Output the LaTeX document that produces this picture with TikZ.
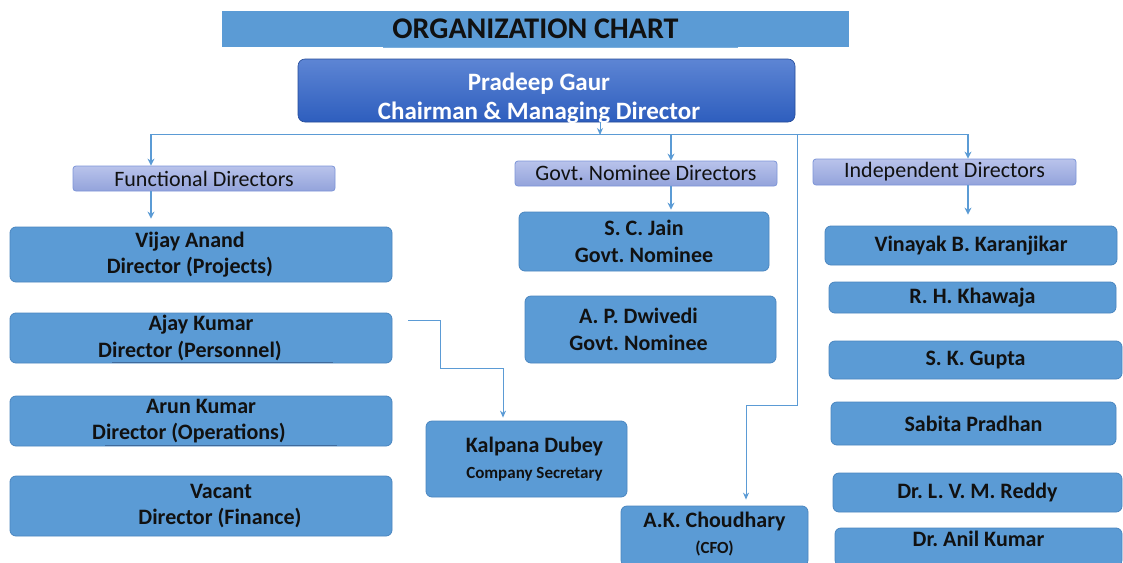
\documentclass[tikz,border=0pt]{standalone}
\usepackage{fontspec}
\setmainfont{Carlito}
\usetikzlibrary{arrows.meta}
\frenchspacing
\definecolor{boxblue}{HTML}{5B9BD5}
\definecolor{boxedge}{HTML}{4A86C0}
\definecolor{lineblue}{HTML}{5B9BD5}
\definecolor{chairtop}{HTML}{5D85D4}
\definecolor{chairbot}{HTML}{2E5EBE}
\definecolor{hdtop}{HTML}{B9C3EB}
\definecolor{hdbot}{HTML}{93A3DB}
\definecolor{hdedge}{HTML}{7D95D8}
\definecolor{txt}{HTML}{111111}
\definecolor{ulcol}{HTML}{3F6A9C}
\begin{document}
\begin{tikzpicture}[x=1pt,y=-1pt,
  box/.style={draw=boxedge, line width=0.8pt, fill=boxblue, rounded corners=6pt,
    inner sep=0pt, align=center, text=txt, font=\bfseries\fontsize{22}{26.5}\selectfont},
  hdbox/.style={draw=hdedge, line width=0.8pt, top color=hdtop, bottom color=hdbot,
    rounded corners=3pt, inner sep=0pt, text=txt, font=\fontsize{22}{24}\selectfont},
  conn/.style={draw=lineblue, line width=1pt},
  arr/.style={conn, -{Stealth[length=7pt,width=6pt]}},
  arrh/.style={draw=lineblue, line width=1.6pt, -{Stealth[length=7pt,width=7pt]}},
  sz/.style 2 args={minimum width=#1pt, minimum height=#2pt}
]
\useasboundingbox (0,0) rectangle (1123,562);
\fill[white] (0,0) rectangle (1123,562);

% title
\node[fill=boxblue, sz={627}{36}, inner sep=0pt, text=txt,
  font=\bfseries\fontsize{30}{32}\selectfont] (title) at (535.5,28.5) {ORGANIZATION CHART};
\draw[draw=boxblue!80, line width=1pt] (383,47) -- (738,47);

% chairman
\node[draw=chairbot!80!black, line width=0.6pt, top color=chairtop, bottom color=chairbot,
  rounded corners=7pt, sz={497}{63}] (chair) at (546.5,90.5) {};
\node[inner sep=0pt, align=center, text=white, font=\bfseries\fontsize{25}{29}\selectfont]
  (chairtxt) at (539,98.5) {Pradeep Gaur\\Chairman \& Managing Director};

% headers
\node[hdbox, sz={262}{25}] (func) at (204,178.5) {Functional Directors};
\node[hdbox, sz={262}{25}] (govt) at (646,173.5) {Govt. Nominee Directors};
\node[hdbox, sz={263}{26}] (indep) at (944.5,172) {Independent Directors};

% functional
\node[box, sz={382}{55}] (vijay) at (201,254.5) {\hspace*{-22pt}Vijay Anand\\\hspace*{-22pt}Director (Projects)};
\node[box, sz={382}{50}] (ajay) at (201,338) {Ajay Kumar\\\hspace*{-22pt}Director (Personnel)};
\node[box, sz={382}{50}] (arun) at (201,421) {Arun Kumar\\\hspace*{-24pt}Director (Operations)};
\node[box, sz={382}{60}] (vacant) at (201,506) {\hspace*{40pt}Vacant\\\hspace*{38pt}Director (Finance)};
\draw[ulcol, line width=1pt] (112,362) -- (333,362);
\draw[ulcol, line width=1pt] (105,445) -- (337,445);

% govt
\node[box, sz={250}{59}] (jain) at (644,241.5) {S. C. Jain\\Govt. Nominee};
\node[box, sz={251}{67}] (dwivedi) at (650.5,329.5) {\hspace*{-24pt}A. P. Dwivedi\\\hspace*{-24pt}Govt. Nominee};

% company secretary, CFO
\node[box, sz={201}{76}] (kalpana) at (526.5,459)
  {\hspace*{16pt}{\fontsize{22}{21}\selectfont Kalpana Dubey}\\\hspace*{16pt}{\fontsize{17}{21}\selectfont Company Secretary}};
\node[box, sz={187}{60}, text depth=6pt] (cfo) at (714.5,536)
  {{\fontsize{22}{22}\selectfont A.K. Choudhary}\\{\fontsize{17}{22}\selectfont (CFO)}};

% independent
\node[box, sz={292}{39}] (vinayak) at (971,245.5) {Vinayak B. Karanjikar};
\node[box, sz={287}{31}] (khawaja) at (972.5,297.5) {R. H. Khawaja};
\node[box, sz={293}{38}] (gupta) at (975.5,360) {S. K. Gupta};
\node[box, sz={285}{43}] (sabita) at (973.5,423.5) {Sabita Pradhan};
\node[box, sz={289}{39}] (reddy) at (977.5,492.5) {Dr. L. V. M. Reddy};
\node[box, sz={287}{38}, text depth=16pt] (anil) at (978.5,547) {Dr. Anil Kumar};

% bus
\coordinate (busL) at (151,134);
\coordinate (busR) at (968,134);
\coordinate (jc) at (600,135);
\coordinate (bg) at (671,134);
\coordinate (bc) at (797,134);
\draw[conn] (busL) -- (busR);
\draw[arr] (chair.south -| jc) -- (jc);
\draw[arrh] (busL) -- (busL |- func.north);
\draw[arrh] (bg) -- (bg |- govt.north);
\draw[arrh] (busR) -- (busR |- indep.north);

\draw[arrh, shorten >=8pt] (func.south -| busL) -- (vijay.north -| busL);
\draw[arrh, shorten >=2pt] (govt.south -| bg) -- (jain.north -| bg);
\draw[arrh, shorten >=11pt] (indep.south -| busR) -- (vinayak.north -| busR);

% CFO connector
\coordinate (cf1) at (797,405);
\coordinate (cf2) at (746,405);
\draw[arr, shorten >=6pt] (bc) -- (cf1) -- (cf2) -- (cf2 |- cfo.north);

% Kalpana connector
\coordinate (k0) at (408,320);
\coordinate (k1) at (440,320);
\coordinate (k2) at (440,368);
\coordinate (k3) at (503,368);
\draw[arr, shorten >=3pt] (k0) -- (k1) -- (k2) -- (k3) -- (k3 |- kalpana.north);
\end{tikzpicture}
\end{document}
